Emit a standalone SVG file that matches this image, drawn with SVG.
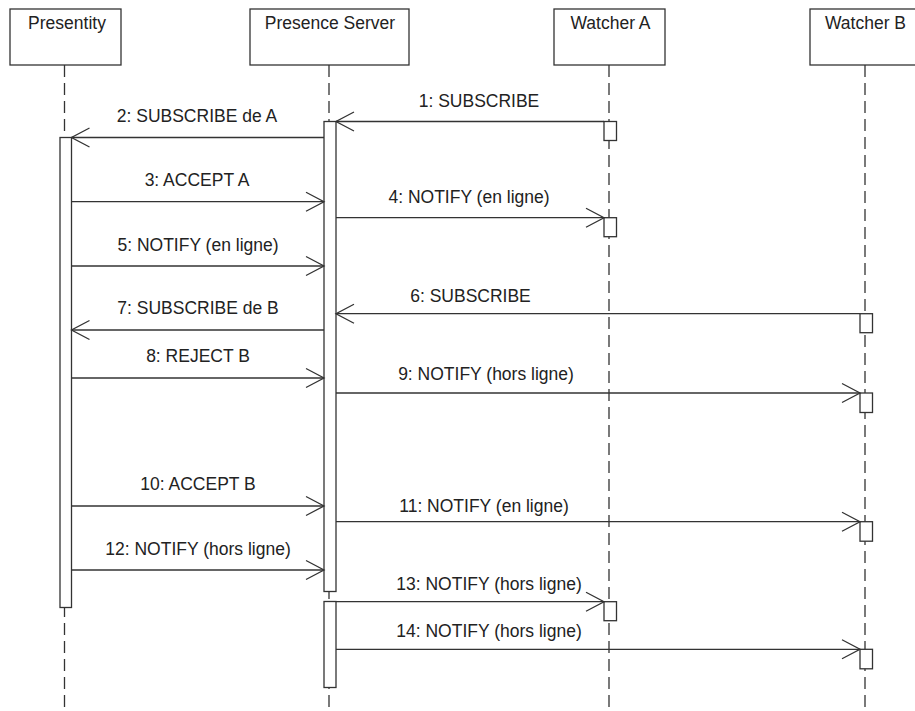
<svg xmlns="http://www.w3.org/2000/svg" width="915" height="711" viewBox="0 0 915 711">
<style>
.box{fill:#fff;stroke:#333;stroke-width:1.3}
.life{stroke:#333;stroke-width:1.3;stroke-dasharray:12 6;fill:none}
.act{fill:#fff;stroke:#333;stroke-width:1.3}
.msg{stroke:#333;stroke-width:1.3;fill:none;marker-end:url(#arr)}
text{font-family:"Liberation Sans",Arial,sans-serif;font-size:17.5px;fill:#222}
.c{text-anchor:middle}
</style>
<defs>
<marker id="arr" markerUnits="userSpaceOnUse" markerWidth="24" markerHeight="24" viewBox="-20 -12 24 24" refX="0" refY="0" orient="auto">
<path d="M-18,-9.5 L0,0 L-18,9.5" fill="none" stroke="#333" stroke-width="1.3"/>
</marker>
</defs>
<rect width="915" height="711" fill="#fff"/>
<g id="presentity">
<rect class="box" x="10" y="9" width="111" height="56"/>
<text class="c" x="67" y="29">Presentity</text>
<line class="life" x1="64.5" y1="65" x2="64.5" y2="711"/>
<rect class="act" x="60" y="137.5" width="11.5" height="470"/>
</g>
<g id="presence-server">
<rect class="box" x="250" y="9" width="159" height="56"/>
<text class="c" x="330" y="29">Presence Server</text>
<line class="life" x1="329" y1="65" x2="329" y2="711"/>
<rect class="act" x="324" y="121.5" width="12" height="470"/>
<rect class="act" x="324" y="601.5" width="12" height="86"/>
</g>
<g id="watcher-a">
<rect class="box" x="554" y="9" width="111" height="56"/>
<text class="c" x="610.5" y="29">Watcher A</text>
<line class="life" x1="609" y1="65" x2="609" y2="711"/>
<rect class="act" x="604" y="121.5" width="12.5" height="19"/>
<rect class="act" x="604" y="217.7" width="12.5" height="19"/>
<rect class="act" x="604" y="601.7" width="12.5" height="19"/>
</g>
<g id="watcher-b">
<rect class="box" x="810" y="9" width="111" height="56"/>
<text class="c" x="865.5" y="29">Watcher B</text>
<line class="life" x1="865" y1="65" x2="865" y2="711"/>
<rect class="act" x="860" y="313.7" width="12.5" height="19"/>
<rect class="act" x="860" y="393" width="12.5" height="19.5"/>
<rect class="act" x="860" y="521.7" width="12.5" height="19.5"/>
<rect class="act" x="860" y="649.3" width="12.5" height="19.5"/>
</g>
<g id="connectors">
<line class="msg" x1="604" y1="121.5" x2="336" y2="121.5"/>
<text class="c" x="479" y="107">1: SUBSCRIBE</text>
<line class="msg" x1="324" y1="137.5" x2="71.5" y2="137.5"/>
<text class="c" x="197" y="122">2: SUBSCRIBE de A</text>
<line class="msg" x1="71.5" y1="201.7" x2="324" y2="201.7"/>
<text class="c" x="197" y="186">3: ACCEPT A</text>
<line class="msg" x1="336" y1="217.7" x2="604" y2="217.7"/>
<text class="c" x="469" y="203">4: NOTIFY (en ligne)</text>
<line class="msg" x1="71.5" y1="266" x2="324" y2="266"/>
<text class="c" x="198" y="251">5: NOTIFY (en ligne)</text>
<line class="msg" x1="860" y1="313.7" x2="336" y2="313.7"/>
<text class="c" x="470.5" y="301.5">6: SUBSCRIBE</text>
<line class="msg" x1="324" y1="330" x2="71.5" y2="330"/>
<text class="c" x="198" y="314">7: SUBSCRIBE de B</text>
<line class="msg" x1="71.5" y1="378" x2="324" y2="378"/>
<text class="c" x="198" y="362">8: REJECT B</text>
<line class="msg" x1="336" y1="393" x2="860" y2="393"/>
<text class="c" x="486" y="380">9: NOTIFY (hors ligne)</text>
<line class="msg" x1="71.5" y1="506" x2="324" y2="506"/>
<text class="c" x="198" y="490">10: ACCEPT B</text>
<line class="msg" x1="336" y1="521.7" x2="860" y2="521.7"/>
<text class="c" x="484" y="511.5">11: NOTIFY (en ligne)</text>
<line class="msg" x1="71.5" y1="570" x2="324" y2="570"/>
<text class="c" x="198" y="555">12: NOTIFY (hors ligne)</text>
<line class="msg" x1="336" y1="601.7" x2="604" y2="601.7"/>
<text class="c" x="489" y="590">13: NOTIFY (hors ligne)</text>
<line class="msg" x1="336" y1="649.3" x2="860" y2="649.3"/>
<text class="c" x="489" y="637">14: NOTIFY (hors ligne)</text>
</g>
</svg>
